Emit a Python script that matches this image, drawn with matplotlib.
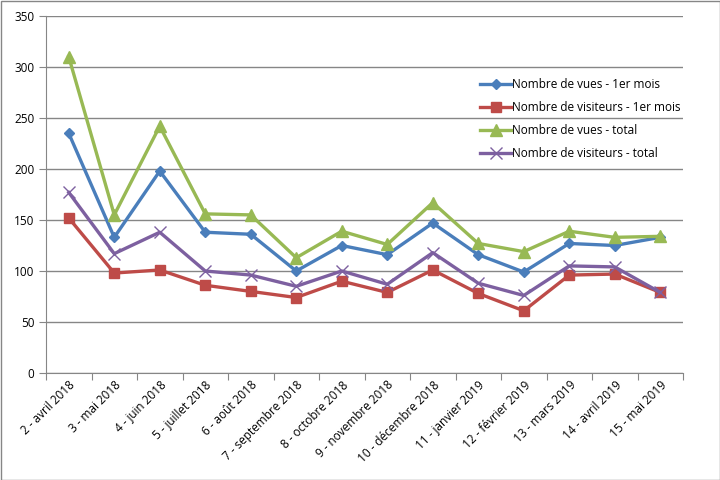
import matplotlib
matplotlib.use("Agg")
import matplotlib.pyplot as plt
from matplotlib.patches import Rectangle

categories = ["2 - avril 2018", "3 - mai 2018", "4 - juin 2018", "5 - juillet 2018",
              "6 - août 2018", "7 - septembre 2018", "8 - octobre 2018", "9 - novembre 2018",
              "10 - décembre 2018", "11 - janvier 2019", "12 - février 2019", "13 - mars 2019",
              "14 - avril 2019", "15 - mai 2019"]
vues_1er = [235, 133, 198, 138, 136, 100, 125, 116, 147, 116, 99, 127, 125, 133]
visiteurs_1er = [152, 98, 101, 86, 80, 74, 90, 79, 101, 78, 61, 96, 97, 79]
vues_total = [310, 155, 242, 156, 155, 113, 139, 126, 167, 127, 119, 139, 133, 134]
visiteurs_total = [177, 117, 138, 100, 96, 85, 100, 87, 118, 88, 76, 105, 104, 79]
yticks = [0, 50, 100, 150, 200, 250, 300, 350]

plt.rcParams['font.family'] = ['Open Sans', 'DejaVu Sans']

fig = plt.figure(figsize=(7.2, 4.8), dpi=100)
ax = fig.add_axes([46/720, 1-373/480, (683-46)/720, (373-16)/480])

x = list(range(len(categories)))
ax.plot(x, vues_1er, color='#4a7ebb', lw=2.4, marker='D', ms=5.5, label='Nombre de vues - 1er mois', zorder=3)
ax.plot(x, visiteurs_1er, color='#be4b48', lw=2.4, marker='s', ms=7, label='Nombre de visiteurs - 1er mois', zorder=3)
ax.plot(x, vues_total, color='#98b954', lw=2.4, marker='^', ms=8, label='Nombre de vues - total', zorder=3)
ax.plot(x, visiteurs_total, color='#7d60a0', lw=2.4, marker='x', ms=8, mew=1.0, label='Nombre de visiteurs - total', zorder=3)

ax.set_xlim(-0.5, len(categories) - 0.5)
ax.set_ylim(0, 350)
ax.set_yticks(yticks)
ax.set_yticklabels([str(v) for v in yticks], fontsize=8.5)
ax.yaxis.grid(True, color='#868686', lw=1)
ax.set_axisbelow(True)
ax.set_xticks([i - 0.5 for i in range(len(categories) + 1)], minor=False)
ax.set_xticklabels([''] * (len(categories) + 1))
ax.set_xticks(x, minor=True)
ax.set_xticklabels(categories, minor=True, rotation=45, ha='right', rotation_mode='anchor', fontsize=8.5)
ax.tick_params(axis='x', which='minor', length=0, pad=4)
ax.tick_params(axis='x', which='major', length=5, color='#868686', direction='out')
ax.tick_params(axis='y', length=5, color='#868686', direction='out')
for s in ['top', 'right']:
    ax.spines[s].set_visible(False)
for s in ['left', 'bottom']:
    ax.spines[s].set_color('#868686')

leg = ax.legend(loc='upper left', bbox_to_anchor=(0.665, 0.855), frameon=False, fontsize=8.5,
                handlelength=2.6, labelspacing=0.85, handletextpad=0.1)

fig.patches.append(Rectangle((0.5/720, 0.5/480), 1-1/720, 1-1/480, transform=fig.transFigure,
                             fill=False, edgecolor='#868686', lw=1))
fig.savefig('out.png', dpi=100)
